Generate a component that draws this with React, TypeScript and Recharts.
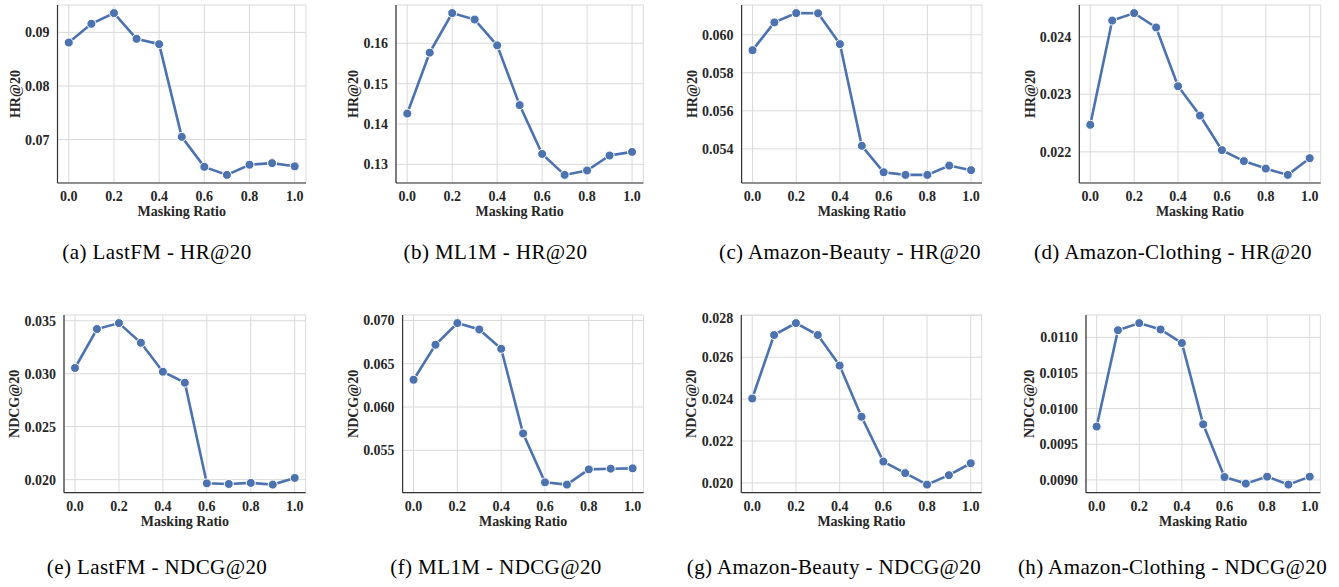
import React from 'react';
import { LineChart, Line, XAxis, YAxis, CartesianGrid } from 'recharts';

// masking ratios on the x axis
const RATIOS = [0.0, 0.1, 0.2, 0.3, 0.4, 0.5, 0.6, 0.7, 0.8, 0.9, 1.0];
const X_TICKS = [0.0, 0.2, 0.4, 0.6, 0.8, 1.0];

// values
const LASTFM_HR = [0.0881, 0.0916, 0.0936, 0.0888, 0.0878, 0.0705, 0.0649, 0.0634, 0.0653, 0.0656, 0.065];
const ML1M_HR = [0.1426, 0.1577, 0.1675, 0.1659, 0.1595, 0.1447, 0.1326, 0.1274, 0.1285, 0.1322, 0.1331];
const BEAUTY_HR = [0.05919, 0.06065, 0.06114, 0.06113, 0.05951, 0.05416, 0.05277, 0.05263, 0.05263, 0.05312, 0.05288];
const CLOTHING_HR = [0.02247, 0.02428, 0.02441, 0.02416, 0.02314, 0.02263, 0.02203, 0.02184, 0.02171, 0.0216, 0.02189];
const LASTFM_NDCG = [0.03054, 0.03422, 0.03478, 0.03292, 0.03019, 0.02915, 0.01965, 0.01959, 0.01969, 0.01953, 0.02016];
const ML1M_NDCG = [0.06315, 0.06719, 0.0697, 0.06896, 0.06673, 0.05695, 0.0513, 0.05104, 0.0528, 0.05288, 0.05292];
const BEAUTY_NDCG = [0.02403, 0.02706, 0.02763, 0.02706, 0.0256, 0.02316, 0.02102, 0.02047, 0.01992, 0.02037, 0.02094];
const CLOTHING_NDCG = [0.009748, 0.0111, 0.0112, 0.01111, 0.01092, 0.00978, 0.00904, 0.008948, 0.009046, 0.008934, 0.009046];

// y tick labels per panel
const TICKS_A = [0.07, 0.08, 0.09];
const TICKS_B = [0.13, 0.14, 0.15, 0.16];
const TICKS_C = [0.054, 0.056, 0.058, 0.06];
const TICKS_D = [0.022, 0.023, 0.024];
const TICKS_E = [0.02, 0.025, 0.03, 0.035];
const TICKS_F = [0.055, 0.06, 0.065, 0.07];
const TICKS_G = [0.02, 0.022, 0.024, 0.026, 0.028];
const TICKS_H = [0.009, 0.0095, 0.01, 0.0105, 0.011];

const CAPTIONS = [
  '(a) LastFM - HR@20',
  '(b) ML1M - HR@20',
  '(c) Amazon-Beauty - HR@20',
  '(d) Amazon-Clothing - HR@20',
  '(e) LastFM - NDCG@20',
  '(f) ML1M - NDCG@20',
  '(g) Amazon-Beauty - NDCG@20',
  '(h) Amazon-Clothing - NDCG@20',
];

const BLUE = '#4c72b0';
const SERIF = '"Liberation Serif", "Times New Roman", serif';
const tickStyle = { fontFamily: SERIF, fontWeight: 700, fontSize: 14, fill: '#262626' };

// page geometry of each panel (plot box + y label centre + caption centre)
const PANELS = [
  { values: LASTFM_HR, ticks: TICKS_A, dec: 2, yLabel: 'HR@20', axisX: 57.5, right: 306, top: 5, bottom: 183, labelX: 15, capX: 157, capY: 252 },
  { values: ML1M_HR, ticks: TICKS_B, dec: 2, yLabel: 'HR@20', axisX: 395.7, right: 643, top: 5, bottom: 183, labelX: 352.7, capX: 495.5, capY: 252 },
  { values: BEAUTY_HR, ticks: TICKS_C, dec: 3, yLabel: 'HR@20', axisX: 741.3, right: 981.7, top: 5, bottom: 183, labelX: 691.7, capX: 850, capY: 252 },
  { values: CLOTHING_HR, ticks: TICKS_D, dec: 3, yLabel: 'HR@20', axisX: 1079.3, right: 1320.7, top: 5, bottom: 183, labelX: 1030, capX: 1173, capY: 252 },
  { values: LASTFM_NDCG, ticks: TICKS_E, dec: 3, yLabel: 'NDCG@20', axisX: 64, right: 305.7, top: 315, bottom: 492.7, labelX: 14, capX: 157, capY: 567 },
  { values: ML1M_NDCG, ticks: TICKS_F, dec: 3, yLabel: 'NDCG@20', axisX: 402.3, right: 643.3, top: 315, bottom: 492.7, labelX: 352.7, capX: 496, capY: 567 },
  { values: BEAUTY_NDCG, ticks: TICKS_G, dec: 3, yLabel: 'NDCG@20', axisX: 741.3, right: 981.7, top: 315, bottom: 492.7, labelX: 691, capX: 834, capY: 567 },
  { values: CLOTHING_NDCG, ticks: TICKS_H, dec: 4, yLabel: 'NDCG@20', axisX: 1086.3, right: 1320.7, top: 315, bottom: 492.7, labelX: 1029.3, capX: 1172.5, capY: 567 },
];

const X_AXIS_H = 33;
const PAD = 5;
const BOTTOM_PAD = 8;

function Panel({ p }: { p: (typeof PANELS)[number] }) {
  const data = RATIOS.map((r, i) => ({ ratio: r, value: p.values[i] }));
  const left = p.labelX - 10;
  const width = p.right - left + PAD;
  const height = p.bottom - p.top + PAD + X_AXIS_H + BOTTOM_PAD;

  return (
    <div style={{ position: 'absolute', left, top: p.top - PAD }}>
      <LineChart width={width} height={height} data={data} margin={{ top: PAD, right: PAD, bottom: BOTTOM_PAD, left: 0 }}>
        <CartesianGrid stroke="#dadada" strokeWidth={1} />
        <XAxis
          dataKey="ratio"
          type="number"
          domain={[-0.05, 1.05]}
          ticks={X_TICKS}
          tickFormatter={(v: number) => v.toFixed(1)}
          tick={tickStyle}
          tickLine={false}
          axisLine={{ stroke: '#333', strokeWidth: 1.2 }}
          height={X_AXIS_H}
          label={{ value: 'Masking Ratio', position: 'insideBottom', offset: 0, style: tickStyle }}
        />
        <YAxis
          type="number"
          domain={([lo, hi]: [number, number]) => [lo - 0.05 * (hi - lo), hi + 0.05 * (hi - lo)]}
          ticks={p.ticks}
          tickFormatter={(v: number) => v.toFixed(p.dec)}
          tick={tickStyle}
          tickLine={false}
          axisLine={{ stroke: '#333', strokeWidth: 1.2 }}
          width={p.axisX - left}
          label={{
            value: p.yLabel,
            angle: -90,
            position: 'insideLeft',
            offset: 10,
            style: { ...tickStyle, textAnchor: 'middle' },
          }}
        />
        <Line
          type="linear"
          dataKey="value"
          stroke={BLUE}
          strokeWidth={2.6}
          dot={{ r: 4.5, fill: BLUE, stroke: '#fff', strokeWidth: 1 }}
          activeDot={false}
          isAnimationActive={false}
        />
      </LineChart>
    </div>
  );
}

export default function App() {
  return (
    <div style={{ position: 'absolute', left: 0, top: 0, width: 1339, height: 587, background: '#fff', overflow: 'hidden' }}>
      {PANELS.map((p, i) => (
        <React.Fragment key={i}>
          <Panel p={p} />
          <div
            style={{
              position: 'absolute',
              left: p.capX,
              top: p.capY - 12,
              transform: 'translateX(-50%)',
              whiteSpace: 'pre',
              fontFamily: SERIF,
              fontSize: 21,
              lineHeight: '24px',
              letterSpacing: 0.4,
              color: '#000',
            }}
          >
            {CAPTIONS[i]}
          </div>
        </React.Fragment>
      ))}
    </div>
  );
}
